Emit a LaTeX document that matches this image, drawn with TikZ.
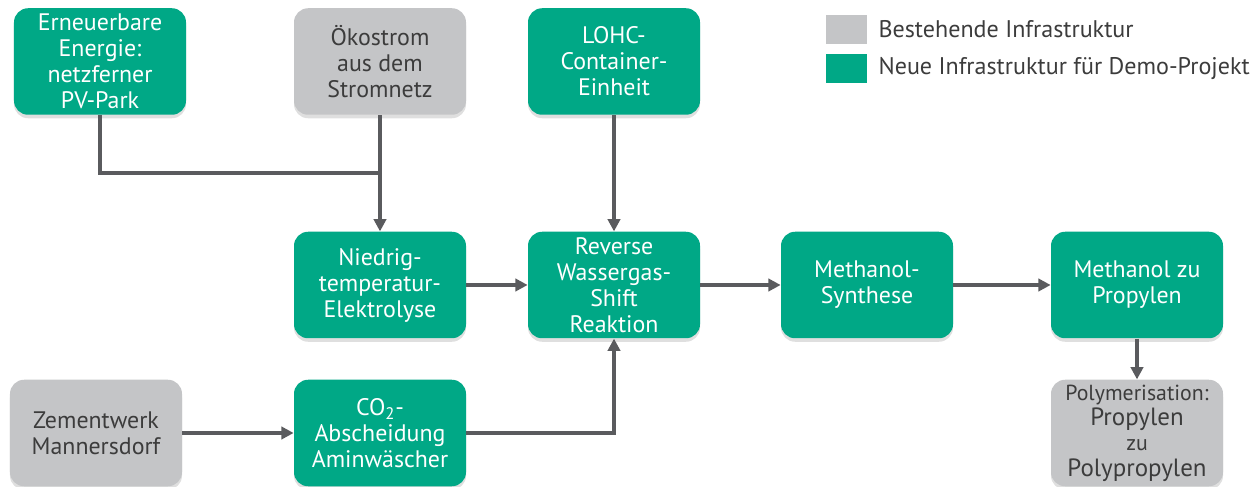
\documentclass[tikz,border=0pt]{standalone}
\usepackage{fontspec}
\setmainfont{PT Sans}
\usepackage{tikz}
\usetikzlibrary{positioning, arrows.meta, shadows}

\definecolor{neu}{HTML}{00A886}
\definecolor{alt}{HTML}{C4C5C7}
\definecolor{pfeil}{HTML}{5A5B5E}
\definecolor{schrift}{HTML}{3C3C3C}

\begin{document}
\begin{tikzpicture}[node distance=4.68cm, on grid, >={Triangle[length=7pt, width=7pt]},
        box/.style={rectangle, rounded corners=8pt, minimum width=3.44cm, minimum height=2.13cm,
            inner sep=0pt, align=center, font=\fontsize{13.6}{14.8}\selectfont,
            drop shadow={opacity=0.25, shadow xshift=0pt, shadow yshift=-2pt}},
        neubox/.style={box, fill=neu, text=white},
        altbox/.style={box, fill=alt, text=schrift},
        leitung/.style={draw=pfeil, line width=1.8pt},
        fluss/.style={leitung, ->}]
        \useasboundingbox (-2cm,1.23cm) rectangle (23.06cm,-8.51cm);

        \node[neubox]   (erneu)                         {Erneuerbare\\Energie:\\netzferner\\PV-Park};
        \node[altbox]   (oeko)    [right=5.6cm of erneu]    {Ökostrom\\aus dem\\Stromnetz};
        \node[neubox]   (lohc)    [right=of oeko]          {LOHC-\\Container-\\Einheit};
        \node[neubox]   (niedrig) [below=4.47cm of oeko]   {Niedrig-\\temperatur-\\Elektrolyse};
        \node[neubox]   (reverse) [right=of niedrig]       {Reverse\\Wassergas-\\Shift\\Reaktion};
        \node[neubox]   (methsyn) [right=5.06cm of reverse] {Methanol-\\Synthese};
        \node[neubox]   (mzp)     [right=5.4cm of methsyn]  {Methanol zu\\Propylen};
        \node[altbox, font=\fontsize{14.2}{14.4}\selectfont] (poly) [below=2.96cm of mzp]
            {{\fontsize{12.4}{13}\selectfont Polymerisation:}\\Propylen\\{\fontsize{12.4}{11.5}\selectfont zu}\\Polypropylen};
        \node[neubox]   (co2)     [below=2.96cm of niedrig] {CO\textsubscript{2}-\\Abscheidung\\Aminwäscher};
        \node[altbox]   (zement)  [left=5.68cm of co2]     {Zementwerk\\Mannersdorf};
        \coordinate[below=2.23cm of oeko] (knoten);

        % Legende
        \node[fill=alt, minimum width=0.82cm, minimum height=0.58cm, inner sep=0pt] (legalt) at (14.93cm,0.64cm) {};
        \node[fill=neu, minimum width=0.82cm, minimum height=0.58cm, inner sep=0pt] (legneu) at (14.93cm,-0.14cm) {};
        \node[anchor=west, text=schrift, font=\fontsize{13.7}{14.8}\selectfont] (legalttxt) at ([xshift=0.1cm]legalt.east) {Bestehende Infrastruktur};
        \node[anchor=west, text=schrift, font=\fontsize{13.7}{14.8}\selectfont] (legneutxt) at ([xshift=0.1cm]legneu.east) {Neue Infrastruktur für Demo-Projekt};

        \draw[leitung] (erneu) |- (knoten);
        \draw[fluss] (oeko) -- (niedrig);
        \draw[fluss] (lohc) -- (reverse);
        \draw[fluss] (niedrig) -- (reverse);
        \draw[fluss] (reverse) -- (methsyn);
        \draw[fluss] (methsyn) -- (mzp);
        \draw[fluss] (mzp) -- (poly);
        \draw[fluss] (zement) -- (co2);
        \draw[fluss] (co2) -| (reverse);
\end{tikzpicture}
\end{document}
